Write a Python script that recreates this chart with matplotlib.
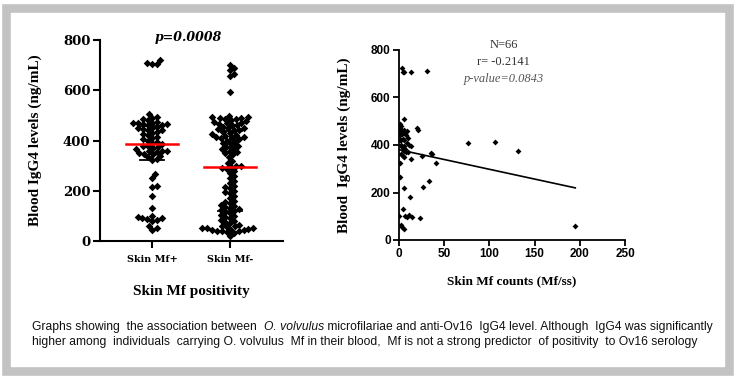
import numpy as np
import matplotlib
matplotlib.use("Agg")
import matplotlib.pyplot as plt
from matplotlib.patches import Rectangle

# IgG4 levels (ng/mL) by skin Mf status
mf_pos = [705, 705, 708, 720,
          505, 495, 490, 485, 480, 475, 470, 470, 470, 465, 465, 460, 460, 455,
          450, 450, 445, 440, 440, 435, 430, 425, 420, 415, 410, 405, 400, 395,
          390, 385, 380, 378, 375, 370, 365, 360, 360, 358, 355, 350, 348, 345,
          340, 335, 325, 322,
          265, 250, 220, 215, 180, 130, 100, 95, 92, 90, 88, 85, 80, 60, 50, 45]
mf_neg = [700, 690, 680, 665, 655, 595,
          498, 495, 492, 490, 488, 487, 485, 480, 477, 475, 470, 468, 465, 462,
          460, 455, 450, 448, 445, 442, 440, 435, 430, 425, 420, 418, 415, 412,
          410, 408, 405, 400,
          395, 390, 385, 380, 375, 370, 365, 360, 355, 350, 345,
          335, 320, 310, 300, 298, 295, 290, 285, 280, 270, 260, 250,
          240, 230, 220, 215, 210, 200, 195, 190, 180, 170, 160, 155, 150,
          145, 140, 135, 130, 128, 125, 120, 115, 110, 105, 100, 95, 90, 85,
          80, 75, 70, 65, 60,
          58, 55, 52, 50, 50, 48, 45, 45, 42, 40, 40, 38, 35, 30, 20]
groups = ["Skin Mf+", "Skin Mf-"]

# skin Mf counts vs IgG4 for the Mf+ people
mf_count = [3, 4, 5, 13, 31,
            5, 1, 1, 2, 3, 5, 6, 7, 8, 10, 4, 6, 9, 11, 2, 3, 4, 6, 8, 10, 2, 4,
            6, 1, 20, 21, 25, 35, 36, 13, 41,
            76, 106, 132, 195,
            1, 5, 12, 33, 26, 1, 4, 7, 9, 11, 14, 23, 0, 2, 3, 5, 1, 2, 1,
            1, 2, 3, 5, 7, 9, 13]
igg4 = [724, 707, 707, 707, 710,
        509, 490, 470, 480, 460, 465, 455, 450, 440, 430, 425, 420, 410, 400,
        400, 390, 380, 375, 370, 372, 360, 355, 350, 324, 471, 465, 354, 366,
        360, 341, 324,
        408, 412, 375, 59,
        265, 219, 181, 248, 223, 450, 130, 100, 95, 105, 97, 93, 101, 63, 55,
        45, 455, 445, 420,
        440, 420, 445, 395, 385, 460, 395]


def swarm(vals, px_y, px_x, d):
    # beeswarm: each point goes to the free spot nearest the centre line
    idx = np.argsort(vals)
    placed = []
    out = np.zeros(len(vals))
    for i in idx:
        y = vals[i] * px_y
        near = [(px, py) for px, py in placed if abs(py - y) < d]
        cands = [0.0]
        for px, py in near:
            dx = np.sqrt(d * d - (py - y) ** 2)
            cands += [px + dx, px - dx]
        cands.sort(key=abs)
        for x in cands:
            if all((x - px) ** 2 + (y - py) ** 2 >= d * d - 1e-6 for px, py in near):
                break
        placed.append((x, y))
        out[i] = x / px_x
    return out


fig = plt.figure(figsize=(7.38, 3.81), dpi=100)
W, H = 738, 381

# grey frame
fig.patches.append(Rectangle((5.5 / W, 1 - 370.5 / H), 723.5 / W, 362.5 / H,
                             transform=fig.transFigure, fill=False,
                             edgecolor="#c3c3c3", linewidth=6.2))

# ---- left: dot plot ----
ax1 = fig.add_axes([100 / W, 1 - 241 / H, 183 / W, 201 / H])
for i, vals in enumerate([mf_pos, mf_neg]):
    v = np.array(vals, dtype=float)
    off = swarm(v, 0.25, 78, 5.0)
    ax1.scatter(i + off, v, marker="D", s=15, color="black", linewidths=0, zorder=3)
    q1, med, q3 = np.percentile(v, [25, 50, 75])
    ax1.plot([i, i], [q1, q3], color="black", lw=1.3, zorder=4)
    ax1.plot([i - 0.15, i + 0.15], [q1, q1], color="black", lw=1.3, zorder=4)
    ax1.plot([i - 0.15, i + 0.15], [q3, q3], color="black", lw=1.3, zorder=4)
    ax1.plot([i - 0.33, i + 0.33], [med, med], color="#ff0000", lw=1.8, zorder=5)

ax1.set_xlim(-0.667, 1.68)
ax1.set_ylim(0, 800)
ax1.set_yticks([0, 200, 400, 600, 800])
ax1.set_xticks([0, 1])
ax1.set_xticklabels(groups, fontsize=7, fontweight="bold", family="DejaVu Serif")
for t in ax1.get_yticklabels():
    t.set_fontsize(9.5)
    t.set_fontweight("bold")
    t.set_family("DejaVu Serif")
ax1.spines["top"].set_visible(False)
ax1.spines["right"].set_visible(False)
ax1.spines["left"].set_linewidth(1.5)
ax1.spines["bottom"].set_linewidth(1.5)
ax1.tick_params(width=1.5, length=5, pad=2)
ax1.tick_params(axis="x", pad=5)
ax1.set_ylabel("Blood IgG4 levels (ng/mL)", fontsize=11, fontweight="bold",
               family="Liberation Serif", labelpad=15)
ax1.set_xlabel("Skin Mf positivity", fontsize=11, fontweight="bold",
               family="Liberation Serif", labelpad=15)
ax1.text(0.47, 808, "p=0.0008", fontsize=9, fontweight="bold", style="italic",
         family="DejaVu Serif", ha="center", va="center")

# ---- right: scatter ----
ax2 = fig.add_axes([399 / W, 1 - 240 / H, 226 / W, 190 / H])
x = np.array(mf_count, dtype=float)
y = np.array(igg4, dtype=float)
ax2.scatter(x, y, marker="D", s=9, color="black", linewidths=0, zorder=3)
b, a = np.polyfit(x, y, 1)
xs = np.array([x.min(), x.max()])
ax2.plot(xs, a + b * xs, color="black", lw=1.2)
ax2.set_xlim(0, 250)
ax2.set_ylim(0, 800)
ax2.set_xticks([0, 50, 100, 150, 200, 250])
ax2.set_yticks([0, 200, 400, 600, 800])
for t in ax2.get_xticklabels() + ax2.get_yticklabels():
    t.set_fontsize(8.5)
    t.set_fontweight("bold")
    t.set_family("Liberation Sans")
ax2.spines["top"].set_visible(False)
ax2.spines["right"].set_visible(False)
ax2.spines["left"].set_linewidth(1.3)
ax2.spines["bottom"].set_linewidth(1.3)
ax2.tick_params(width=1.3, length=4, pad=2)
ax2.set_ylabel("Blood  IgG4 levels (ng/mL)", fontsize=11, fontweight="bold",
               family="Liberation Serif", labelpad=14)
ax2.set_xlabel("Skin Mf counts (Mf/ss)", fontsize=9.5, fontweight="bold",
               family="Liberation Serif", labelpad=11)
ax2.text(116, 819, "N=66", fontsize=9, family="Liberation Serif", color="#333333",
         ha="center", va="center")
ax2.text(116, 749, "r= -0.2141", fontsize=9, family="Liberation Serif",
         color="#333333", ha="center", va="center")
ax2.text(116, 679, "p-value=0.0843", fontsize=9, family="Liberation Serif",
         style="italic", color="#555555", ha="center", va="center")

# ---- caption ----
cap = dict(fontsize=8.7, family="Liberation Sans", color="#111111", va="center")
r = fig.canvas.get_renderer()
parts = [("Graphs showing  the association between  ", "normal"),
         ("O. volvulus", "italic"),
         (" microfilariae and anti-Ov16  IgG4 level. Although  IgG4 was significantly",
          "normal")]
xpos = 32 / W
for s, st in parts:
    t = fig.text(xpos, 1 - 327 / H, s, style=st, **cap)
    xpos += t.get_window_extent(r).width / W
fig.text(32 / W, 1 - 342 / H,
         "higher among  individuals  carrying O. volvulus  Mf in their blood,  "
         "Mf is not a strong predictor  of positivity  to Ov16 serology", **cap)

fig.savefig("out.png", dpi=100)
